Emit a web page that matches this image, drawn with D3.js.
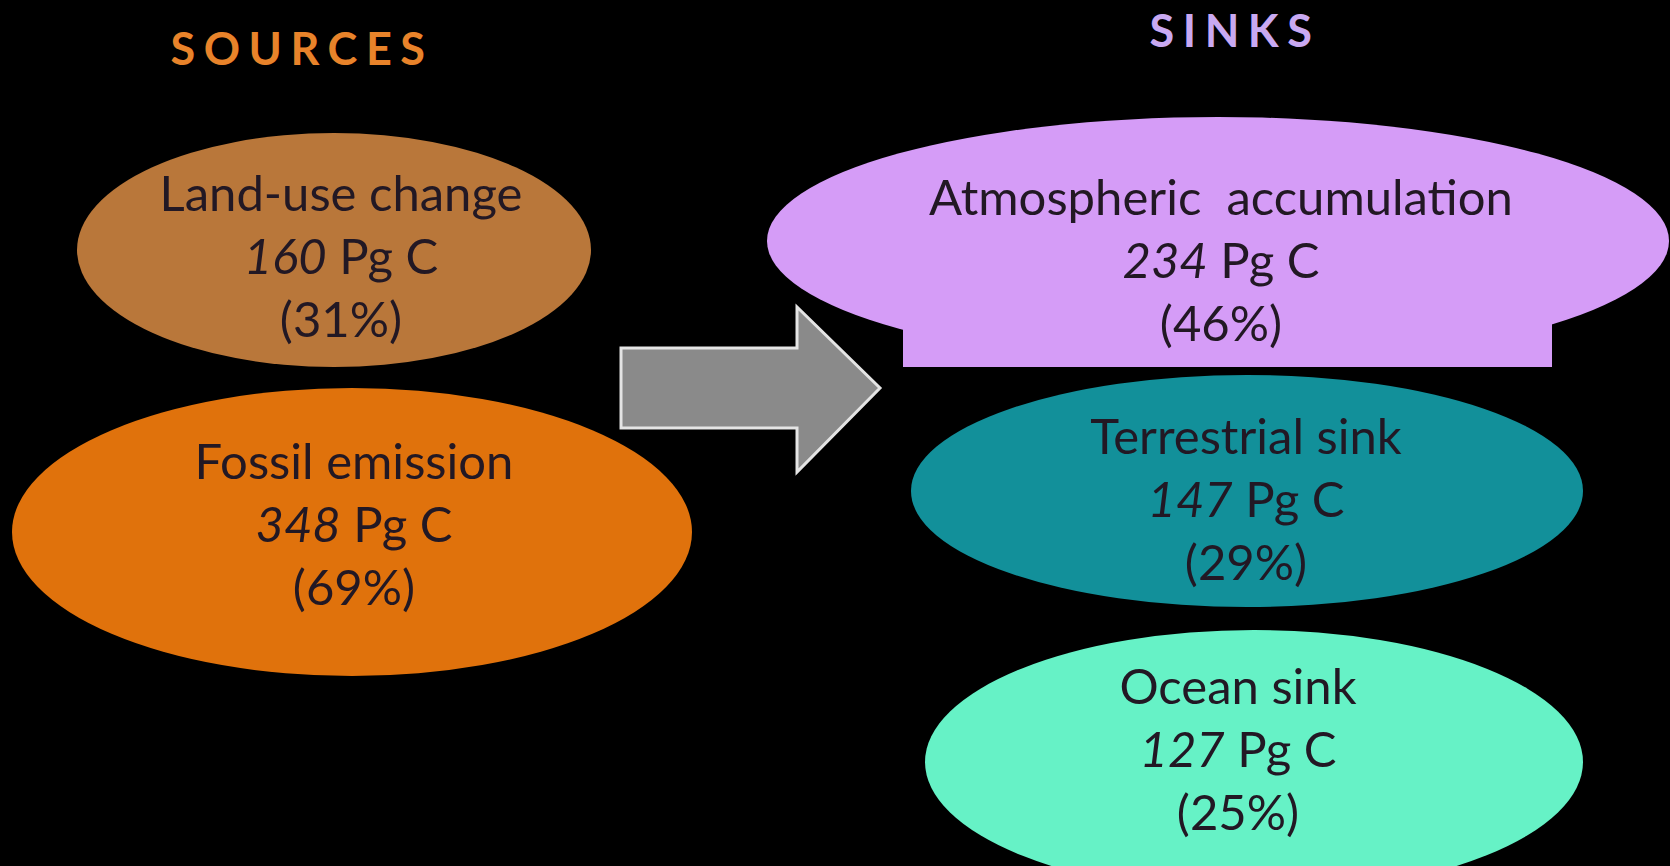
<!DOCTYPE html>
<html>
<head>
<meta charset="utf-8">
<script src="https://cdn.jsdelivr.net/npm/d3@7"></script>
<style>
  html, body { margin: 0; padding: 0; background: #000; }
  svg { display: block; }
  text { font-family: Lato, "Open Sans", sans-serif; }
</style>
</head>
<body>
<svg id="chart" width="1670" height="866"></svg>
<script>
// Cumulative carbon budget: where emitted carbon came from and where it went
const groupTitles = ["SOURCES", "SINKS"];
const sourceNames = ["Land-use change", "Fossil emission"];
const sourceValues = [160, 348];
const sourceShares = [31, 69];
const sinkNames = ["Atmospheric  accumulation", "Terrestrial sink", "Ocean sink"];
const sinkValues = [234, 147, 127];
const sinkShares = [46, 29, 25];
const unitLabel = "Pg C";

// Shape geometry and colours for each node
const sourceLayout = [
  { cx: 334, cy: 250, rx: 257, ry: 117, tx: 341, ty: 274, fill: "#B9773A" },
  { cx: 352, cy: 532, rx: 340, ry: 144, tx: 354, ty: 542, fill: "#E0720C" }
];
const sinkLayout = [
  { cx: 1218, cy: 241, rx: 451, ry: 124, tx: 1221, ty: 278, fill: "#D59CF7",
    skirt: { x0: 903, x1: 1552, y0: 300, y1: 367 } },
  { cx: 1247, cy: 491, rx: 336, ry: 116, tx: 1246, ty: 517, fill: "#12909A" },
  { cx: 1254, cy: 762, rx: 329, ry: 132, tx: 1238, ty: 767, fill: "#66F2C6" }
];
const titleLayout = [
  { x: 302, y: 65, fill: "#E8832A" },
  { x: 1235, y: 47, fill: "#C9A9F2" }
];

const textColor = "#221824";
const lineGap = 63;
const bodySize = 49;

const svg = d3.select("#chart");
svg.append("rect").attr("width", 1670).attr("height", 866).attr("fill", "#000");

const sources = sourceNames.map((name, i) => ({
  name, value: sourceValues[i], share: sourceShares[i], ...sourceLayout[i]
}));
const sinks = sinkNames.map((name, i) => ({
  name, value: sinkValues[i], share: sinkShares[i], ...sinkLayout[i]
}));
const nodes = sources.concat(sinks);

// Ellipses
const shapes = svg.append("g").selectAll("g").data(nodes).join("g");
shapes.append("ellipse")
  .attr("cx", d => d.cx).attr("cy", d => d.cy)
  .attr("rx", d => d.rx).attr("ry", d => d.ry)
  .attr("fill", d => d.fill);
shapes.filter(d => d.skirt).append("rect")
  .attr("x", d => d.skirt.x0).attr("y", d => d.skirt.y0)
  .attr("width", d => d.skirt.x1 - d.skirt.x0)
  .attr("height", d => d.skirt.y1 - d.skirt.y0)
  .attr("fill", d => d.fill);

// Block arrow from sources to sinks
const arrowPts = [[621, 348], [797, 348], [797, 307], [880, 388], [797, 472], [797, 428], [621, 428]];
svg.append("path")
  .attr("d", d3.line()(arrowPts) + "Z")
  .attr("fill", "#8a8a8a")
  .attr("stroke", "#e4e4e4")
  .attr("stroke-width", 3)
  .attr("stroke-linejoin", "miter");

// Three-line labels: name, value (italic) + unit, share
const labels = svg.append("g").selectAll("text").data(nodes).join("text")
  .attr("text-anchor", "middle")
  .attr("fill", textColor)
  .style("font-size", bodySize + "px")
  .style("white-space", "pre");

labels.append("tspan")
  .attr("x", d => d.tx).attr("y", d => d.ty - lineGap)
  .text(d => d.name);
const valueLine = labels.append("tspan")
  .attr("x", d => d.tx).attr("y", d => d.ty);
valueLine.append("tspan").style("font-style", "italic").text(d => d.value);
valueLine.append("tspan").text(" " + unitLabel);
labels.append("tspan")
  .attr("x", d => d.tx).attr("y", d => d.ty + lineGap)
  .text(d => `(${d.share}%)`);

// Column titles
svg.append("g").selectAll("text").data(groupTitles).join("text")
  .attr("x", (d, i) => titleLayout[i].x)
  .attr("y", (d, i) => titleLayout[i].y)
  .attr("text-anchor", "middle")
  .attr("fill", (d, i) => titleLayout[i].fill)
  .style("font-size", "45px")
  .style("font-weight", "700")
  .style("letter-spacing", "0.19em")
  .text(d => d);
</script>
</body>
</html>
